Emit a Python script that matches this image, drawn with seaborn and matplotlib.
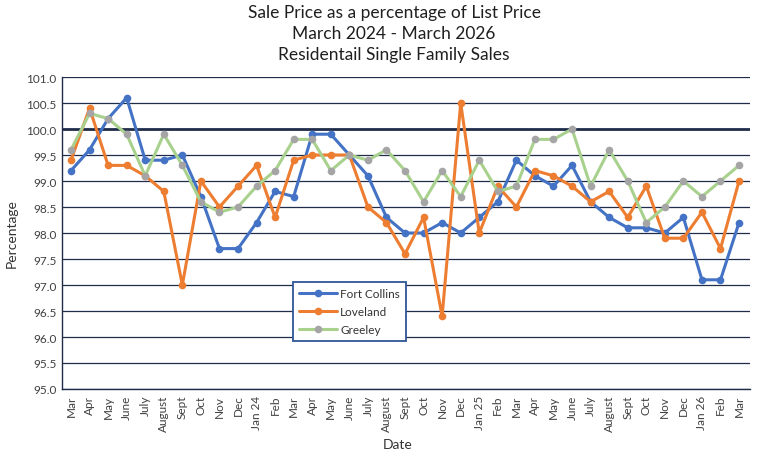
import matplotlib
matplotlib.use("Agg")
import matplotlib.pyplot as plt
import seaborn as sns
import pandas as pd
import numpy as np

months = ["Mar", "Apr", "May", "June", "July", "August", "Sept", "Oct", "Nov", "Dec",
          "Jan 24", "Feb", "Mar", "Apr", "May", "June", "July", "August", "Sept", "Oct", "Nov", "Dec",
          "Jan 25", "Feb", "Mar", "Apr", "May", "June", "July", "August", "Sept", "Oct", "Nov", "Dec",
          "Jan 26", "Feb", "Mar"]

fort_collins = [99.2, 99.6, 100.2, 100.6, 99.4, 99.4, 99.5, 98.7, 97.7, 97.7,
                98.2, 98.8, 98.7, 99.9, 99.9, 99.5, 99.1, 98.3, 98.0, 98.0, 98.2, 98.0,
                98.3, 98.6, 99.4, 99.1, 98.9, 99.3, 98.6, 98.3, 98.1, 98.1, 98.0, 98.3,
                97.1, 97.1, 98.2]
loveland = [99.4, 100.4, 99.3, 99.3, 99.1, 98.8, 97.0, 99.0, 98.5, 98.9,
            99.3, 98.3, 99.4, 99.5, 99.5, 99.5, 98.5, 98.2, 97.6, 98.3, 96.4, 100.5,
            98.0, 98.9, 98.5, 99.2, 99.1, 98.9, 98.6, 98.8, 98.3, 98.9, 97.9, 97.9,
            98.4, 97.7, 99.0]
greeley = [99.6, 100.3, 100.2, 99.9, 99.1, 99.9, 99.3, 98.6, 98.4, 98.5,
           98.9, 99.2, 99.8, 99.8, 99.2, 99.5, 99.4, 99.6, 99.2, 98.6, 99.2, 98.7,
           99.4, 98.8, 98.9, 99.8, 99.8, 100.0, 98.9, 99.6, 99.0, 98.2, 98.5, 99.0,
           98.7, 99.0, 99.3]

y_ticks = [95.0, 95.5, 96.0, 96.5, 97.0, 97.5, 98.0, 98.5, 99.0, 99.5, 100.0, 100.5, 101.0]

sns.set_theme(style="white")
plt.rcParams['font.family'] = ['Lato', 'DejaVu Sans']

W, H = 759, 456
fig = plt.figure(figsize=(W / 100, H / 100), dpi=100)
ax = fig.add_axes([62 / W, 1 - 390 / H, (750 - 62) / W, (390 - 78) / H])

x = np.arange(len(months))
df = pd.DataFrame({"x": x, "Fort Collins": fort_collins, "Loveland": loveland, "Greeley": greeley})

grid_col = "#1f2d4a"
for v in y_ticks:
    ax.axhline(v, color=grid_col, lw=2.0 if v == 100.0 else 0.9, zorder=1)

sns.lineplot(data=df, x="x", y="Fort Collins", ax=ax, color="#4472C4", lw=2.2,
             marker="o", markersize=5.5, markeredgewidth=0, label="Fort Collins", zorder=3)
sns.lineplot(data=df, x="x", y="Loveland", ax=ax, color="#ED7D31", lw=2.2,
             marker="o", markersize=5.5, markeredgewidth=0, label="Loveland", zorder=3)
sns.lineplot(data=df, x="x", y="Greeley", ax=ax, color="#A9D18E", lw=2.2,
             marker="o", markersize=5.5, markeredgewidth=0, markerfacecolor="#A5A5A5",
             label="Greeley", zorder=3)

ax.set_xlim(-0.485, 36.59)
ax.set_ylim(95.0, 101.0)
ax.set_yticks(y_ticks)
ax.set_yticklabels([f"{v:.1f}" for v in y_ticks], fontsize=8.5, color="#404040")
ax.set_xticks(x)
ax.set_xticklabels(months, rotation=90, fontsize=8.5, color="#404040")
ax.tick_params(axis="both", length=0, pad=4)

for s in ["top", "right"]:
    ax.spines[s].set_visible(False)
for s in ["left", "bottom"]:
    ax.spines[s].set_color(grid_col)
    ax.spines[s].set_linewidth(1.0)

ax.set_xlabel("")
ax.set_ylabel("")
fig.text(12 / W, 1 - 234 / H, "Percentage", rotation=90, ha="center", va="center",
         fontsize=10, color="#333333")
fig.text(398 / W, 1 - 445 / H, "Date", ha="center", va="center", fontsize=10, color="#333333")

title = "Sale Price as a percentage of List Price\nMarch 2024 - March 2026\nResidentail Single Family Sales"
fig.text(394 / W, 1 - 34 / H, title, ha="center", va="center", fontsize=12.5,
         color="#1f1f1f", linespacing=1.35)

leg = ax.legend(loc="upper left", bbox_to_anchor=(293 / W, 1 - 283 / H),
                bbox_transform=fig.transFigure, frameon=True, fancybox=False,
                fontsize=8.5, handlelength=3.2, handletextpad=0.3, borderpad=0.5,
                labelspacing=0.6, borderaxespad=0)
leg.get_frame().set_edgecolor("#2F5597")
leg.get_frame().set_linewidth(1.3)
leg.get_frame().set_facecolor("white")
leg.get_frame().set_alpha(1)
for t in leg.get_texts():
    t.set_color("#333333")

fig.savefig("out.png", dpi=100)
